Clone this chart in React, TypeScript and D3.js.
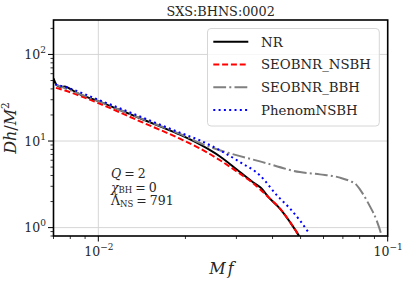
import * as d3 from "d3";

// values (frequency Mf, amplitude Dh/M^2)
const nrF = [0.007, 0.00709, 0.00721, 0.00743, 0.00767, 0.00798, 0.00864, 0.01, 0.01188, 0.01393, 0.01633, 0.01914, 0.02245, 0.02633, 0.03086, 0.03477, 0.03618, 0.03917, 0.04242, 0.04595, 0.04946, 0.0505];
const nrDh = [52.8, 47.5, 43.9, 42.2, 42.7, 40.0, 34.5, 28.9, 22.8, 18.35, 14.76, 11.84, 9.12, 6.62, 4.38, 3.22, 2.94, 2.16, 1.66, 1.16, 0.794, 0.7];

const nsbhF = [0.00714, 0.00767, 0.01, 0.01393, 0.01914, 0.02245, 0.02633, 0.03086, 0.03477, 0.03917, 0.04242, 0.04595, 0.04946, 0.0505];
const nsbhDh = [41.1, 38.3, 27.4, 16.9, 10.64, 8.2, 6.0, 4.2, 3.13, 2.16, 1.66, 1.16, 0.794, 0.7];

const bbhF = [0.00709, 0.01, 0.01393, 0.01914, 0.02245, 0.02489, 0.0285, 0.03618, 0.04973, 0.05831, 0.06838, 0.07404, 0.0777, 0.08016, 0.08456, 0.08682, 0.09158, 0.0953, 0.0963];
const bbhDh = [45.1, 28.9, 18.4, 12.1, 9.5, 8.3, 7.2, 5.82, 4.38, 4.12, 3.78, 3.45, 3.16, 2.77, 2.07, 1.76, 1.21, 0.794, 0.677];

const phenomF = [0.00709, 0.00767, 0.01, 0.01393, 0.01914, 0.02245, 0.02633, 0.03086, 0.03618, 0.04143, 0.04595, 0.04973, 0.05342];
const phenomDh = [45.1, 42.2, 30.0, 19.2, 12.49, 10.17, 7.8, 5.72, 4.01, 2.36, 1.66, 1.21, 0.866];

const seriesNames = ["NR", "SEOBNR_NSBH", "SEOBNR_BBH", "PhenomNSBH"];
const seriesColors = ["#000000", "#ff0000", "#808080", "#0000ff"];
const seriesDash = ["none", "6,2.8", "12.8,3.2,2,3.2", "2,3.3"];

const xMajor = [0.01, 0.1];
const xMajorExp = ["−2", "−1"];
const xMinor = [0.007, 0.008, 0.009, 0.02, 0.03, 0.04, 0.05, 0.06, 0.07, 0.08, 0.09];
const yMajor = [1, 10, 100];
const yMajorExp = ["0", "1", "2"];
const yMinor = [0.8, 0.9, 2, 3, 4, 5, 6, 7, 8, 9, 20, 30, 40, 50, 60, 70, 80, 90, 200];

const W = 407;
const H = 282;
const left = 53.5;
const right = 387.7;
const top = 20;
const bottom = 236;
const FONT = "DejaVu Serif";
const INK = "#262626";

export default function App() {
  const x = d3.scaleLog().domain([0.007, 0.1]).range([left, right]);
  const y = d3.scaleLog().domain([0.8, 250]).range([bottom, top]);

  const series = [
    { f: nrF, v: nrDh },
    { f: nsbhF, v: nsbhDh },
    { f: bbhF, v: bbhDh },
    { f: phenomF, v: phenomDh },
  ].map((s, i) => ({
    name: seriesNames[i],
    color: seriesColors[i],
    dash: seriesDash[i],
    pts: s.f.map((f, j) => [f, s.v[j]] as [number, number]),
  }));

  const line = d3
    .line<[number, number]>()
    .x((d) => x(d[0]))
    .y((d) => y(d[1]))
    .curve(d3.curveMonotoneX);

  const legX = 207.5;
  const legY = 28.5;
  const rowH = 22.8;

  return (
    <svg width={W} height={H} fontFamily={FONT} style={{ position: "absolute", left: 0, top: 0, background: "#fff" }}>
      <defs>
        <clipPath id="plot">
          <rect x={left} y={top} width={right - left} height={bottom - top} />
        </clipPath>
      </defs>

      {/* grid */}
      {xMajor.map((t) => (
        <line key={"gx" + t} x1={x(t)} x2={x(t)} y1={top} y2={bottom} stroke="#d0d0d0" strokeWidth={0.9} />
      ))}
      {yMajor.map((t) => (
        <line key={"gy" + t} x1={left} x2={right} y1={y(t)} y2={y(t)} stroke="#d0d0d0" strokeWidth={0.9} />
      ))}

      {/* curves */}
      <g clipPath="url(#plot)">
        {series.map((s) => (
          <path
            key={s.name}
            d={line(s.pts) ?? ""}
            fill="none"
            stroke={s.color}
            strokeWidth={2}
            strokeDasharray={s.dash}
          />
        ))}
      </g>

      {/* ticks */}
      {xMajor.map((t) => (
        <line key={"tx" + t} x1={x(t)} x2={x(t)} y1={bottom} y2={bottom + 5.5} stroke="#000" strokeWidth={1} />
      ))}
      {xMinor.map((t) => (
        <line key={"mx" + t} x1={x(t)} x2={x(t)} y1={bottom} y2={bottom + 3} stroke="#000" strokeWidth={0.8} />
      ))}
      {yMajor.map((t) => (
        <line key={"ty" + t} x1={left - 5.5} x2={left} y1={y(t)} y2={y(t)} stroke="#000" strokeWidth={1} />
      ))}
      {yMinor.map((t) => (
        <line key={"my" + t} x1={left - 3} x2={left} y1={y(t)} y2={y(t)} stroke="#000" strokeWidth={0.8} />
      ))}

      {/* frame */}
      <rect x={left} y={top} width={right - left} height={bottom - top} fill="none" stroke="#000" strokeWidth={1.6} />

      {/* tick labels */}
      {xMajor.map((t, i) => (
        <text key={"lx" + t} x={x(t) + 0.5} y={256} textAnchor="middle" fontSize={12.5} fill={INK}>
          10
          <tspan dy={-6} fontSize={9}>
            {xMajorExp[i]}
          </tspan>
        </text>
      ))}
      {yMajor.map((t, i) => (
        <text key={"ly" + t} x={46} y={y(t) + 4.5} textAnchor="end" fontSize={12.5} fill={INK}>
          10
          <tspan dy={-6} fontSize={9}>
            {yMajorExp[i]}
          </tspan>
        </text>
      ))}

      {/* axis labels and title */}
      <text x={221.5} y={274} textAnchor="middle" fontSize={16} fill={INK}>
        <tspan fontStyle="italic">M</tspan>
        <tspan fontStyle="italic" dx={2}>f</tspan>
      </text>
      <text transform="translate(16,128) rotate(-90)" textAnchor="middle" fontSize={16} fill={INK}>
        <tspan fontStyle="italic">Dh</tspan>
        <tspan>/</tspan>
        <tspan fontStyle="italic">M</tspan>
        <tspan dy={-7} fontSize={10.5}>2</tspan>
      </text>
      <text x={(left + right) / 2} y={16} textAnchor="middle" fontSize={12.8} fill={INK}>
        {"SXS:BHNS:0002"}
      </text>

      {/* parameters */}
      <g fontSize={12.5} fill={INK}>
        <text x={111} y={178}>
          <tspan fontStyle="italic">Q</tspan>
          <tspan dx={3}>=</tspan>
          <tspan dx={3}>2</tspan>
        </text>
        <text x={111} y={191.5}>
          <tspan fontStyle="italic">χ</tspan>
          <tspan fontSize={8.5} dy={1.5}>BH</tspan>
          <tspan dy={-1.5} dx={3}>=</tspan>
          <tspan dx={3}>0</tspan>
        </text>
        <text x={111} y={205}>
          <tspan>Λ</tspan>
          <tspan fontSize={8.5} dy={1.5}>NS</tspan>
          <tspan dy={-1.5} dx={3}>=</tspan>
          <tspan dx={3}>791</tspan>
        </text>
      </g>

      {/* legend */}
      <rect
        x={legX}
        y={legY}
        width={379.3 - legX}
        height={126 - legY}
        rx={3.5}
        fill="#fff"
        fillOpacity={0.8}
        stroke="#d6d6d6"
        strokeWidth={1}
      />
      {series.map((s, i) => {
        const cy = 41.7 + i * rowH;
        return (
          <g key={"leg" + s.name}>
            <line x1={213.3} x2={248.3} y1={cy} y2={cy} stroke={s.color} strokeWidth={2} strokeDasharray={s.dash} />
            <text x={261} y={cy + 4.8} fontSize={13.3} fill={INK}>
              {s.name}
            </text>
          </g>
        );
      })}
    </svg>
  );
}
